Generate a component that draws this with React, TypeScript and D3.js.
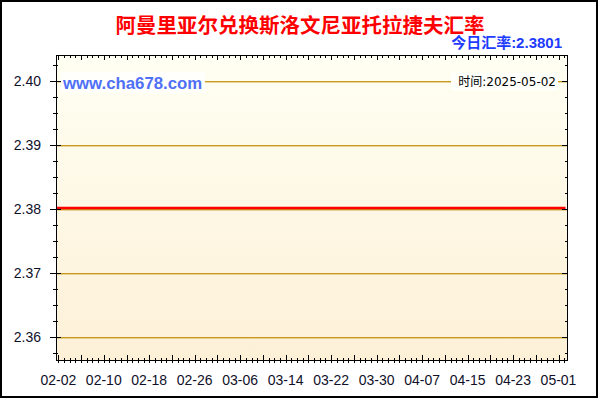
import { useEffect, useRef, FC } from "react";
import * as d3 from "d3";

// rate data (OMR -> SIT)
const dates = [
  "2025-02-02", "2025-02-06", "2025-02-10", "2025-02-14", "2025-02-18",
  "2025-02-22", "2025-02-26", "2025-03-02", "2025-03-06", "2025-03-10",
  "2025-03-14", "2025-03-18", "2025-03-22", "2025-03-26", "2025-03-30",
  "2025-04-03", "2025-04-07", "2025-04-11", "2025-04-15", "2025-04-19",
  "2025-04-23", "2025-04-27", "2025-05-01", "2025-05-02",
];
const rates = [
  2.3801, 2.3801, 2.3801, 2.3801, 2.3801, 2.3801, 2.3801, 2.3801,
  2.3801, 2.3801, 2.3801, 2.3801, 2.3801, 2.3801, 2.3801, 2.3801,
  2.3801, 2.3801, 2.3801, 2.3801, 2.3801, 2.3801, 2.3801, 2.3801,
];
const yTicks = [2.36, 2.37, 2.38, 2.39, 2.4];
const titleText = "阿曼里亚尔兑换斯洛文尼亚托拉捷夫汇率";
const todayText = "今日汇率:2.3801";
const siteText = "www.cha678.com";
const timeText = "时间:2025-05-02";

const W = 600,
  H = 400,
  left = 56,
  right = 568,
  top = 55,
  bottom = 361;

const parse = d3.timeParse("%Y-%m-%d");

const App: FC = () => {
  const ref = useRef<SVGSVGElement>(null);

  useEffect(() => {
    const svg = d3.select(ref.current);
    svg.selectAll("*").remove();

    const x = d3
      .scaleTime()
      .domain([new Date(2025, 1, 1, 14, 18), new Date(2025, 4, 2, 16, 5)])
      .range([left, right]);
    const y = d3.scaleLinear().domain([2.3562, 2.404]).range([bottom, top]);

    const defs = svg.append("defs");
    const grad = defs
      .append("linearGradient")
      .attr("id", "bg")
      .attr("x1", 0)
      .attr("y1", 0)
      .attr("x2", 0)
      .attr("y2", 1);
    grad.append("stop").attr("offset", "0%").attr("stop-color", "#fffff3");
    grad.append("stop").attr("offset", "100%").attr("stop-color", "#fdf0d7");

    svg
      .append("rect")
      .attr("width", W)
      .attr("height", H)
      .attr("fill", "#ffffff");

    svg
      .append("rect")
      .attr("x", left)
      .attr("y", top)
      .attr("width", right - left)
      .attr("height", bottom - top)
      .attr("fill", "url(#bg)");

    // horizontal grid (rects so the colour stays solid)
    svg
      .append("g")
      .selectAll("rect")
      .data(yTicks)
      .enter()
      .append("rect")
      .attr("x", left)
      .attr("width", right - left)
      .attr("y", (d) => Math.round(y(d)))
      .attr("height", 1.4)
      .attr("fill", "#c99a1e");

    // labels inside the plot with their boxes
    svg
      .append("rect")
      .attr("x", 61)
      .attr("y", 72)
      .attr("width", 144)
      .attr("height", 21)
      .attr("fill", "#fffffb");
    svg
      .append("text")
      .attr("x", 63)
      .attr("y", 89)
      .attr("font-family", "'Liberation Sans', Arial, sans-serif")
      .attr("font-weight", "bold")
      .attr("font-size", 16.8)
      .attr("fill", "#4f70f5")
      .text(siteText);

    svg
      .append("rect")
      .attr("x", 451)
      .attr("y", 73)
      .attr("width", 107)
      .attr("height", 17)
      .attr("fill", "#fffffb");
    svg
      .append("text")
      .attr("x", 556)
      .attr("y", 86)
      .attr("text-anchor", "end")
      .attr("font-family", "'DejaVu Sans', 'Noto Sans CJK SC', sans-serif")
      .attr("font-size", 12)
      .attr("fill", "#000000")
      .text(timeText);

    // series
    const line = d3
      .line<[Date, number]>()
      .x((d) => x(d[0]))
      .y((d) => y(d[1]));
    const pts: [Date, number][] = dates.map((d, i) => [parse(d) as Date, rates[i]]);
    svg
      .append("path")
      .attr("d", line(pts))
      .attr("fill", "none")
      .attr("stroke", "#ff0000")
      .attr("stroke-width", 2.6)
      .attr("stroke-linecap", "square");

    // frame of the plot
    svg
      .append("rect")
      .attr("x", left + 0.5)
      .attr("y", top + 0.5)
      .attr("width", right - left - 1)
      .attr("height", bottom - top - 1)
      .attr("fill", "none")
      .attr("stroke", "#000");

    // x ticks: every day, bigger every 4 days, labels every 8
    const start = parse(dates[0]) as Date;
    const days = d3.timeDay.range(start, x.domain()[1]);
    const ticks = svg.append("g").attr("stroke", "#000");
    days.forEach((d) => {
      const n = d3.timeDay.count(start, d);
      const px = Math.round(x(d)) + 0.5;
      const big = n % 4 === 0;
      ticks
        .append("line")
        .attr("x1", px)
        .attr("x2", px)
        .attr("y1", bottom - (big ? 6 : 3))
        .attr("y2", bottom + 2);
      ticks
        .append("line")
        .attr("x1", px)
        .attr("x2", px)
        .attr("y1", top)
        .attr("y2", top + (big ? 5 : 3));
    });

    svg
      .append("g")
      .selectAll("text")
      .data(days.filter((d) => d3.timeDay.count(start, d) % 8 === 0))
      .enter()
      .append("text")
      .attr("x", (d) => x(d))
      .attr("y", 385)
      .attr("text-anchor", "middle")
      .attr("font-family", "'Liberation Sans', Arial, sans-serif")
      .attr("font-size", 14)
      .attr("fill", "#10102a")
      .text((d) => d3.timeFormat("%m-%d")(d));

    // y ticks: minor every 0.0025
    const minor = d3.range(0, 20).map((i) => 2.3575 + i * 0.0025);
    minor
      .filter((v) => y(v) > top + 2 && y(v) < bottom - 2)
      .forEach((v) => {
        const py = Math.round(y(v)) + 0.5;
        const major = yTicks.some((t) => Math.abs(t - v) < 1e-6);
        ticks
          .append("line")
          .attr("x1", major ? left - 6 : left - 3)
          .attr("x2", major ? left + 5 : left + 2)
          .attr("y1", py)
          .attr("y2", py);
        ticks
          .append("line")
          .attr("x1", right - (major ? 6 : 3))
          .attr("x2", right)
          .attr("y1", py)
          .attr("y2", py);
      });

    svg
      .append("g")
      .selectAll("text")
      .data(yTicks)
      .enter()
      .append("text")
      .attr("x", 41)
      .attr("y", (d) => y(d) + 5)
      .attr("text-anchor", "end")
      .attr("font-family", "'Liberation Sans', Arial, sans-serif")
      .attr("font-size", 14)
      .attr("fill", "#10102a")
      .text((d) => d.toFixed(2));

    // titles
    svg
      .append("text")
      .attr("x", 300)
      .attr("y", 33)
      .attr("text-anchor", "middle")
      .attr("font-family", "'Noto Sans CJK SC', sans-serif")
      .attr("font-weight", "bold")
      .attr("font-size", 20.5)
      .attr("fill", "#ff0000")
      .text(titleText);

    svg
      .append("text")
      .attr("x", 562)
      .attr("y", 48)
      .attr("text-anchor", "end")
      .attr("font-family", "'Liberation Sans', 'Noto Sans CJK SC', sans-serif")
      .attr("font-weight", "bold")
      .attr("font-size", 15)
      .attr("fill", "#1e3cff")
      .text(todayText);

    // outer frame
    svg
      .append("rect")
      .attr("x", 1)
      .attr("y", 1)
      .attr("width", 596)
      .attr("height", 396)
      .attr("fill", "none")
      .attr("stroke", "#000")
      .attr("stroke-width", 2);
  }, []);

  return (
    <>
      <style>{"body{margin:0}"}</style>
      <svg ref={ref} width={W} height={H} style={{ display: "block" }} />
    </>
  );
};

export default App;
